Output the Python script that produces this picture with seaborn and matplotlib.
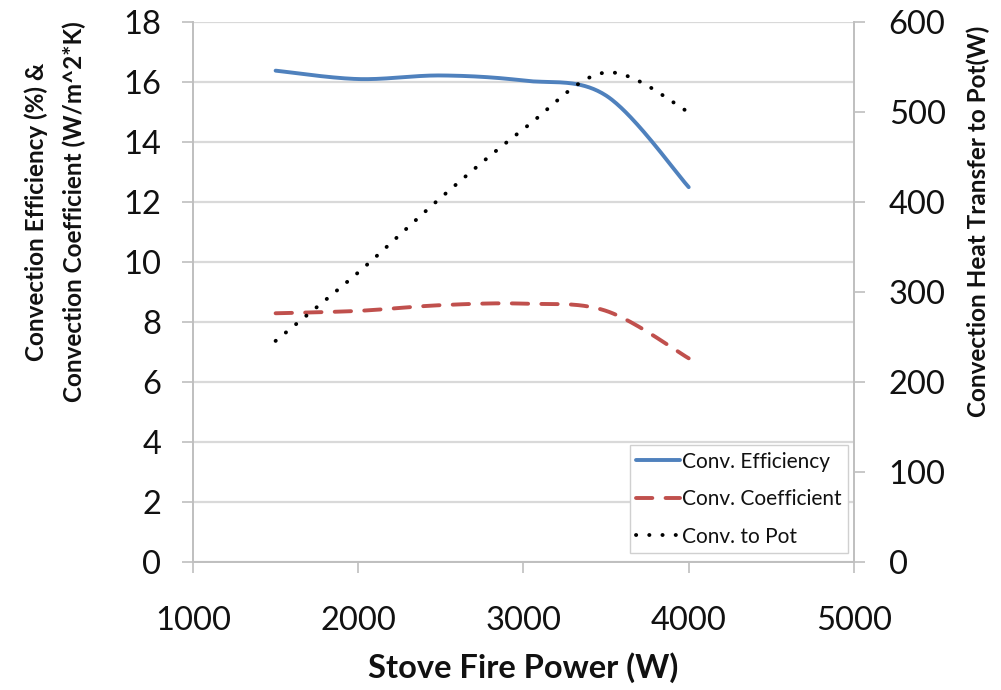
import numpy as np
import pandas as pd
import matplotlib
matplotlib.use("Agg")
import matplotlib.pyplot as plt
import seaborn as sns

# ---- data ----
power = [1500, 2000, 2500, 3000, 3500, 4000]
conv_eff = [16.38, 16.10, 16.22, 16.05, 15.55, 12.50]
conv_coef = [8.30, 8.38, 8.57, 8.62, 8.38, 6.80]
conv_pot = [246, 322, 405, 481, 544, 500]

x_ticks = [1000, 2000, 3000, 4000, 5000]
y_ticks = [0, 2, 4, 6, 8, 10, 12, 14, 16, 18]
y2_ticks = [0, 100, 200, 300, 400, 500, 600]

sns.set_theme(style="white")
plt.rcParams['font.family'] = ['Lato', 'DejaVu Sans']


def smooth_curve(x, y, n=60):
    """Excel-like smoothed line: cubic Bezier through the data points."""
    pts = np.column_stack([x, y]).astype(float)
    out = []
    for i in range(len(pts) - 1):
        p0 = pts[i - 1] if i > 0 else pts[i]
        p1, p2 = pts[i], pts[i + 1]
        p3 = pts[i + 2] if i + 2 < len(pts) else pts[i + 1]
        c1 = p1 + (p2 - p0) / 6.0
        c2 = p2 - (p3 - p1) / 6.0
        t = np.linspace(0, 1, n)[:, None]
        seg = ((1 - t) ** 3) * p1 + 3 * ((1 - t) ** 2) * t * c1 \
            + 3 * (1 - t) * t ** 2 * c2 + t ** 3 * p2
        out.append(seg if i == 0 else seg[1:])
    arr = np.vstack(out)
    return pd.DataFrame({"x": arr[:, 0], "y": arr[:, 1]})


fig = plt.figure(figsize=(10.01, 6.90), dpi=100)
ax = fig.add_axes([0.1928, 0.1848, 0.6603, 0.7833])
ax2 = ax.twinx()

blue = "#4F81BD"
red = "#C0504D"
grid_c = "#D9D9D9"
spine_c = "#BFBFBF"
txt_c = "#111111"

d_eff = smooth_curve(power, conv_eff)
d_coef = smooth_curve(power, conv_coef)
d_pot = smooth_curve(power, conv_pot)

sns.lineplot(data=d_eff, x="x", y="y", ax=ax, sort=False, color=blue,
             linewidth=2.8, label="Conv. Efficiency", legend=False,
             solid_capstyle="round")
sns.lineplot(data=d_coef, x="x", y="y", ax=ax, sort=False, color=red,
             linewidth=2.8, label="Conv. Coefficient", legend=False,
             dashes=False)
ax.lines[-1].set_dashes((4.2, 3.4))
ax.lines[-1].set_dash_capstyle("round")
sns.lineplot(data=d_pot, x="x", y="y", ax=ax2, sort=False, color="black",
             linewidth=2.8, label="Conv. to Pot", legend=False)
ax2.lines[-1].set_linestyle((0, (0.05, 3.35)))
ax2.lines[-1].set_dash_capstyle("round")

# axes limits & ticks
ax.set_xlim(1000, 5000)
ax.set_ylim(0, 18)
ax2.set_ylim(0, 600)
ax.set_xticks(x_ticks)
ax.set_yticks(y_ticks)
ax2.set_yticks(y2_ticks)

ax.yaxis.grid(True, color=grid_c, linewidth=1.6)
ax.xaxis.grid(False)
ax2.grid(False)
ax.set_axisbelow(True)

for a in (ax, ax2):
    for s in a.spines.values():
        s.set_visible(False)
for a, side in ((ax, 'left'), (ax, 'bottom'), (ax2, 'right')):
    a.spines[side].set_visible(True)
    a.spines[side].set_color(spine_c)
    a.spines[side].set_linewidth(1.4)

ax.tick_params(axis='y', which='major', left=True, direction='out', length=8,
               width=1.2, color=spine_c, labelsize=23.5, labelcolor=txt_c, pad=15)
ax.tick_params(axis='x', which='major', bottom=True, direction='out', length=8,
               width=1.2, color=spine_c, labelsize=23.5, labelcolor=txt_c, pad=23)
ax2.tick_params(axis='y', which='major', right=True, direction='out', length=8,
                width=1.2, color=spine_c, labelsize=23.5, labelcolor=txt_c, pad=17)

ax.set_xlabel("Stove Fire Power (W)", fontsize=23.5, fontweight='bold',
              labelpad=12, color=txt_c)
ax.set_ylabel("Convection Efficiency (%) &\nConvection Coefficient (W/m^2*K)",
              fontsize=17.5, fontweight='bold', linespacing=1.75, color=txt_c)
ax.yaxis.set_label_coords(-0.162, 0.649)
ax2.set_ylabel("Convection Heat Transfer to Pot(W)", fontsize=17.5,
               fontweight='bold', rotation=90, color=txt_c)
ax2.yaxis.set_label_coords(1.17, 0.632)

handles = [ax.lines[0], ax.lines[1], ax2.lines[0]]
labels = ["Conv. Efficiency", "Conv. Coefficient", "Conv. to Pot"]
leg = ax2.legend(handles, labels, loc='lower right', bbox_to_anchor=(0.991, 0.0176),
                 fontsize=15, frameon=True, fancybox=False, framealpha=1,
                 edgecolor='#D0D0D0', handlelength=2.1, handletextpad=0.12,
                 labelspacing=0.84, borderpad=0.3, borderaxespad=0.0)
leg.get_frame().set_linewidth(1.0)
for t in leg.get_texts():
    t.set_color(txt_c)

fig.savefig("out.png", dpi=100, facecolor="white")
